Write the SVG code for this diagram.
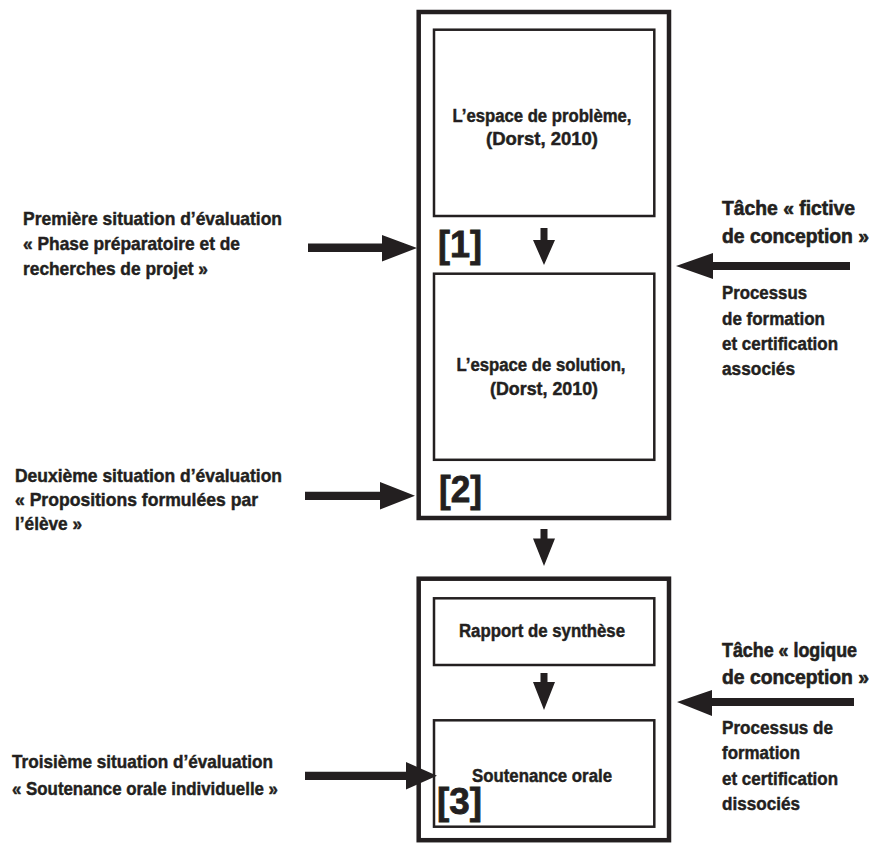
<svg xmlns="http://www.w3.org/2000/svg" width="872" height="843" viewBox="0 0 872 843">
<style>
.outer{fill:none;stroke:#231f20;stroke-width:4.5}
.inner{fill:none;stroke:#231f20;stroke-width:2.5}
.arrow{fill:#231f20;stroke:none}
text{font-family:"Liberation Sans",Arial,sans-serif;font-weight:bold;fill:#231f20;stroke:#231f20;stroke-width:0.45}
.side{font-size:18.5px}
.big{font-size:19.5px;stroke-width:0.6}
.mid{font-size:18px}
.ctr{font-size:18px;text-anchor:middle}
.num{font-size:36px;stroke-width:0.8}
</style>
<rect width="872" height="843" fill="#ffffff"/>
<g id="outer1"><rect class="outer" x="418.7" y="12" width="250.3" height="506"/></g>
<g id="outer2"><rect class="outer" x="418.7" y="578.7" width="250.3" height="261.5"/></g>
<g id="probleme">
<rect class="inner" x="434" y="29.7" width="220.3" height="186.3"/>
<text class="ctr" x="542" y="122" textLength="179" lengthAdjust="spacingAndGlyphs">L’espace de problème,</text>
<text class="ctr" x="542" y="145" textLength="112" lengthAdjust="spacingAndGlyphs">(Dorst, 2010)</text>
</g>
<g id="solution">
<rect class="inner" x="434" y="273.7" width="220.3" height="186.1"/>
<text class="ctr" x="541" y="371" textLength="169" lengthAdjust="spacingAndGlyphs">L’espace de solution,</text>
<text class="ctr" x="544" y="395" textLength="108" lengthAdjust="spacingAndGlyphs">(Dorst, 2010)</text>
</g>
<g id="rapport">
<rect class="inner" x="434" y="598.3" width="220.3" height="66.7"/>
<text class="ctr" x="542" y="637" textLength="166" lengthAdjust="spacingAndGlyphs">Rapport de synthèse</text>
</g>
<g id="soutenance">
<rect class="inner" x="434" y="720.3" width="220.3" height="106.4"/>
<text class="ctr" x="542" y="782" textLength="140" lengthAdjust="spacingAndGlyphs">Soutenance orale</text>
</g>
<g id="labels">
<text class="num" x="438" y="257" textLength="44" lengthAdjust="spacingAndGlyphs">[1]</text>
<text class="num" x="439" y="502" textLength="43" lengthAdjust="spacingAndGlyphs">[2]</text>
<text class="num" x="437" y="814" textLength="45" lengthAdjust="spacingAndGlyphs">[3]</text>
</g>
<g id="situation1">
<text class="side" x="23" y="225" textLength="259" lengthAdjust="spacingAndGlyphs">Première situation d’évaluation</text>
<text class="side" x="23" y="250" textLength="217" lengthAdjust="spacingAndGlyphs">« Phase préparatoire et de</text>
<text class="side" x="23" y="275" textLength="185" lengthAdjust="spacingAndGlyphs">recherches de projet »</text>
</g>
<g id="situation2">
<text class="side" x="15" y="482" textLength="267" lengthAdjust="spacingAndGlyphs">Deuxième situation d’évaluation</text>
<text class="side" x="15" y="506" textLength="243" lengthAdjust="spacingAndGlyphs">« Propositions formulées par</text>
<text class="side" x="15" y="530" textLength="67" lengthAdjust="spacingAndGlyphs">l’élève »</text>
</g>
<g id="situation3">
<text class="side" x="12" y="768" textLength="261" lengthAdjust="spacingAndGlyphs">Troisième situation d’évaluation</text>
<text class="side" x="12" y="795" textLength="266" lengthAdjust="spacingAndGlyphs">« Soutenance orale individuelle »</text>
</g>
<g id="tache1">
<text class="big" x="722" y="215" textLength="133" lengthAdjust="spacingAndGlyphs">Tâche « fictive</text>
<text class="big" x="722" y="243" textLength="147" lengthAdjust="spacingAndGlyphs">de conception »</text>
<text class="mid" x="722" y="299" textLength="85" lengthAdjust="spacingAndGlyphs">Processus</text>
<text class="mid" x="722" y="325" textLength="103" lengthAdjust="spacingAndGlyphs">de formation</text>
<text class="mid" x="722" y="350" textLength="116" lengthAdjust="spacingAndGlyphs">et certification</text>
<text class="mid" x="722" y="375" textLength="73" lengthAdjust="spacingAndGlyphs">associés</text>
</g>
<g id="tache2">
<text class="big" x="722" y="657" textLength="135" lengthAdjust="spacingAndGlyphs">Tâche « logique</text>
<text class="big" x="722" y="684" textLength="147" lengthAdjust="spacingAndGlyphs">de conception »</text>
<text class="mid" x="722" y="734" textLength="111" lengthAdjust="spacingAndGlyphs">Processus de</text>
<text class="mid" x="722" y="759" textLength="78" lengthAdjust="spacingAndGlyphs">formation</text>
<text class="mid" x="722" y="785" textLength="116" lengthAdjust="spacingAndGlyphs">et certification</text>
<text class="mid" x="722" y="810" textLength="78" lengthAdjust="spacingAndGlyphs">dissociés</text>
</g>
<g id="connectors">
<polygon class="arrow" points="308,243.5 382,243.5 382,235 417,248 382,261.5 382,252 308,252"/>
<polygon class="arrow" points="305,491.8 380,491.8 380,482 415,495.8 380,509.5 380,500 305,500"/>
<polygon class="arrow" points="305,771.8 406,771.8 406,762 437,775.8 406,789.5 406,780 305,780"/>
<polygon class="arrow" points="850,262 713,262 713,253 676,266 713,279 713,270 850,270"/>
<polygon class="arrow" points="854,698 712,698 712,690 677,702 712,716 712,706 854,706"/>
<polygon class="arrow" points="540.5,228 547.5,228 547.5,240 555,240 544,265 533,240 540.5,240"/>
<polygon class="arrow" points="540.5,529 547.5,529 547.5,538.5 555,538.5 544,566 533,538.5 540.5,538.5"/>
<polygon class="arrow" points="540.5,673 547.5,673 547.5,682 555,682 544,710 533,682 540.5,682"/>
</g>
</svg>
